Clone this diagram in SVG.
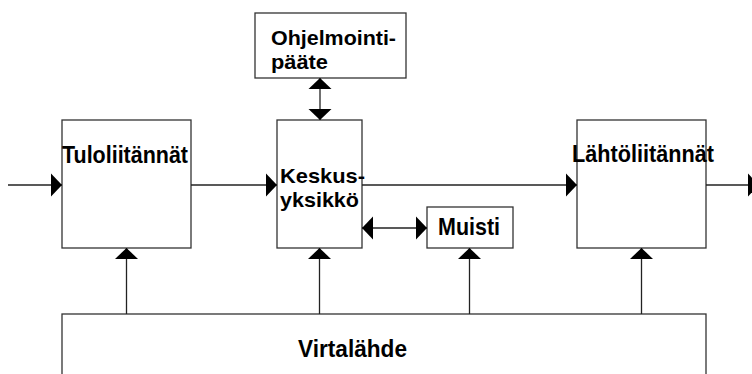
<svg xmlns="http://www.w3.org/2000/svg" width="752" height="374" viewBox="0 0 752 374">
  <defs>
    <style>
      .box { fill: #fff; stroke: #333; stroke-width: 1.3; }
      .wire { fill: none; stroke: #222; stroke-width: 1.3; }
      .lbl { font-family: "Liberation Sans", Arial, sans-serif; font-size: 24px; font-weight: bold; fill: #000; }
      .lbl2 { font-size: 21px; }
    </style>
    <marker id="head" markerUnits="userSpaceOnUse" markerWidth="12" markerHeight="24" refX="11" refY="11.5" orient="auto-start-reverse" viewBox="0 0 12 23">
      <path d="M0,0 L11,11.5 L0,23 Z" fill="#000"/>
    </marker>
  </defs>
  <rect width="752" height="374" fill="#fff"/>

  <g id="ohjelmointipaate">
    <rect class="box" x="255" y="13" width="151" height="65"/>
    <text class="lbl lbl2" x="271" y="45" textLength="125" lengthAdjust="spacingAndGlyphs">Ohjelmointi-</text>
    <text class="lbl lbl2" x="271" y="69" textLength="57" lengthAdjust="spacingAndGlyphs">pääte</text>
  </g>

  <g id="tuloliitannat">
    <rect class="box" x="62" y="120" width="129" height="128"/>
    <text class="lbl" x="62" y="163" textLength="126" lengthAdjust="spacingAndGlyphs">Tuloliitännät</text>
  </g>

  <g id="keskusyksikko">
    <rect class="box" x="277" y="120" width="85" height="128"/>
    <text class="lbl lbl2" x="280" y="183" textLength="85" lengthAdjust="spacingAndGlyphs">Keskus-</text>
    <text class="lbl lbl2" x="280" y="207" textLength="79" lengthAdjust="spacingAndGlyphs">yksikkö</text>
  </g>

  <g id="muisti">
    <rect class="box" x="427" y="207" width="86" height="41"/>
    <text class="lbl" x="438" y="235" textLength="62" lengthAdjust="spacingAndGlyphs">Muisti</text>
  </g>

  <g id="lahtoliitannat">
    <rect class="box" x="577" y="120" width="129" height="128"/>
    <text class="lbl" x="572" y="162" textLength="142" lengthAdjust="spacingAndGlyphs">Lähtöliitännät</text>
  </g>

  <g id="virtalahde">
    <rect class="box" x="62" y="314" width="644" height="90"/>
    <text class="lbl" x="298" y="357" textLength="109" lengthAdjust="spacingAndGlyphs">Virtalähde</text>
  </g>

  <g id="connectors">
    <line class="wire" x1="8" y1="185" x2="62" y2="185" marker-end="url(#head)"/>
    <line class="wire" x1="191" y1="185" x2="277" y2="185" marker-end="url(#head)"/>
    <line class="wire" x1="362" y1="185" x2="577" y2="185" marker-end="url(#head)"/>
    <line class="wire" x1="706" y1="185" x2="759" y2="185" marker-end="url(#head)"/>
    <line class="wire" x1="320" y1="78" x2="320" y2="120" marker-start="url(#head)" marker-end="url(#head)"/>
    <line class="wire" x1="362" y1="228" x2="427" y2="228" marker-start="url(#head)" marker-end="url(#head)"/>
    <line class="wire" x1="126.5" y1="314" x2="126.5" y2="248" marker-end="url(#head)"/>
    <line class="wire" x1="319.5" y1="314" x2="319.5" y2="248" marker-end="url(#head)"/>
    <line class="wire" x1="469.5" y1="314" x2="469.5" y2="248" marker-end="url(#head)"/>
    <line class="wire" x1="641.5" y1="314" x2="641.5" y2="248" marker-end="url(#head)"/>
  </g>
</svg>
